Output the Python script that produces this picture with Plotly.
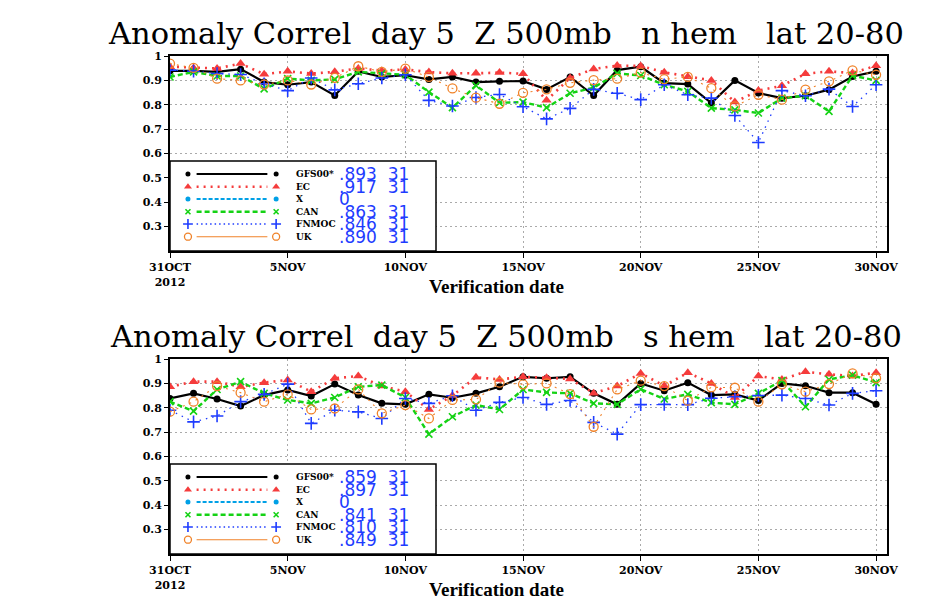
import pandas as pd
import plotly.graph_objects as go

# verification dates, 31 Oct .. 30 Nov 2012
dates = pd.date_range("2012-10-31", periods=31, freq="D")
tick_dates = ["2012-10-31", "2012-11-05", "2012-11-10", "2012-11-15",
              "2012-11-20", "2012-11-25", "2012-11-30"]
tick_text = ["31OCT<br>2012", "5NOV", "10NOV", "15NOV", "20NOV", "25NOV", "30NOV"]
y_ticks = [0.3, 0.4, 0.5, 0.6, 0.7, 0.8, 0.9, 1.0]
y_text = ["0.3", "0.4", "0.5", "0.6", "0.7", "0.8", "0.9", "1"]

models = ["GFS00*", "EC", "X", "CAN", "FNMOC", "UK"]

# northern hemisphere
gfs_n = [0.939, 0.939, 0.935, 0.946, 0.893, 0.882, 0.893, 0.838, 0.937, 0.914, 0.921,
         0.904, 0.914, 0.893, 0.896, 0.897, 0.863, 0.914, 0.838, 0.942, 0.956,
         0.889, 0.885, 0.807, 0.900, 0.848, 0.827, 0.837, 0.862, 0.916, 0.937]
ec_n = [0.956, 0.951, 0.949, 0.969, 0.925, 0.937, 0.928, 0.935, 0.949, 0.940, 0.945,
        0.934, 0.929, 0.929, 0.932, 0.927, 0.818, 0.910, 0.947, 0.961, 0.959,
        0.933, 0.915, 0.900, 0.811, 0.858, 0.878, 0.927, 0.937, 0.930, 0.960]
can_n = [0.914, 0.935, 0.918, 0.918, 0.865, 0.907, 0.900, 0.904, 0.935, 0.928, 0.923,
         0.852, 0.788, 0.879, 0.808, 0.811, 0.788, 0.847, 0.870, 0.929, 0.920,
         0.882, 0.855, 0.786, 0.779, 0.766, 0.827, 0.837, 0.773, 0.919, 0.900]
fnmoc_n = [0.942, 0.938, 0.928, 0.924, 0.886, 0.858, 0.910, 0.861, 0.886, 0.910, 0.923,
           0.818, 0.795, 0.830, 0.842, 0.792, 0.742, 0.785, 0.863, 0.847, 0.821,
           0.882, 0.841, 0.827, 0.756, 0.645, 0.858, 0.837, 0.864, 0.793, 0.882]
uk_n = [0.969, 0.951, 0.907, 0.900, 0.883, 0.900, 0.883, 0.910, 0.958, 0.935, 0.948,
        0.914, 0.867, 0.829, 0.804, 0.849, 0.863, 0.890, 0.901, 0.907, 0.932,
        0.905, 0.914, 0.868, 0.793, 0.841, 0.821, 0.862, 0.896, 0.941, 0.923]
stats_n = [".893  31", ".917  31", "0", ".863  31", ".846  31", ".890  31"]

# southern hemisphere
gfs_s = [0.838, 0.859, 0.836, 0.807, 0.852, 0.873, 0.848, 0.897, 0.852, 0.818, 0.814,
         0.855, 0.841, 0.859, 0.886, 0.927, 0.921, 0.927, 0.859, 0.814, 0.900,
         0.870, 0.903, 0.852, 0.855, 0.830, 0.900, 0.890, 0.862, 0.862, 0.814]
ec_s = [0.886, 0.907, 0.907, 0.886, 0.903, 0.914, 0.866, 0.921, 0.930, 0.889, 0.866,
        0.793, 0.850, 0.925, 0.916, 0.927, 0.923, 0.918, 0.860, 0.889, 0.941,
        0.890, 0.944, 0.900, 0.842, 0.930, 0.916, 0.948, 0.937, 0.930, 0.944]
can_s = [0.825, 0.786, 0.875, 0.907, 0.859, 0.832, 0.818, 0.842, 0.886, 0.893, 0.842,
         0.692, 0.763, 0.811, 0.793, 0.875, 0.863, 0.859, 0.818, 0.814, 0.876,
         0.836, 0.855, 0.821, 0.814, 0.859, 0.911, 0.804, 0.916, 0.934, 0.903]
fnmoc_s = [0.790, 0.742, 0.766, 0.825, 0.855, 0.897, 0.736, 0.790, 0.783, 0.756, 0.838,
           0.818, 0.849, 0.790, 0.822, 0.842, 0.814, 0.830, 0.740, 0.692, 0.813,
           0.814, 0.813, 0.839, 0.845, 0.850, 0.852, 0.838, 0.811, 0.859, 0.870]
uk_s = [0.784, 0.825, 0.889, 0.862, 0.825, 0.855, 0.793, 0.797, 0.875, 0.777, 0.811,
        0.756, 0.832, 0.834, 0.903, 0.896, 0.900, 0.856, 0.722, 0.875, 0.911,
        0.889, 0.829, 0.884, 0.882, 0.825, 0.896, 0.866, 0.897, 0.941, 0.921]
stats_s = [".859  31", ".897  31", "0", ".841  31", ".810  31", ".849  31"]

W, H = 930, 608
OFF = 8  # the page body margin shifts the figure by 8px


def fx(px):
    return (px - OFF) / W


def fy(py):
    return 1 - (py - OFF) / H


RED = "rgb(245,60,60)"
GREEN = "rgb(20,210,20)"
BLUE = "rgb(30,60,255)"
ORANGE = "rgb(240,130,40)"
CYAN = "rgb(0,160,230)"

# line / marker style per model
styles = {
    "GFS00*": dict(line=dict(color="black", width=2.2, dash="solid"),
                   marker=dict(symbol="circle", size=7, color="black")),
    "EC": dict(line=dict(color=RED, width=2.6, dash="2px,5px"),
               marker=dict(symbol="triangle-up", size=9, color=RED)),
    "X": dict(line=dict(color=CYAN, width=2.2, dash="4px,2px"),
              marker=dict(symbol="circle", size=7, color=CYAN)),
    "CAN": dict(line=dict(color=GREEN, width=2.4, dash="5px,3px"),
                marker=dict(symbol="x-thin", size=7, color=GREEN,
                            line=dict(color=GREEN, width=1.6))),
    "FNMOC": dict(line=dict(color=BLUE, width=1.3, dash="1.5px,5px"),
                  marker=dict(symbol="cross-thin", size=9, color=BLUE,
                              line=dict(color=BLUE, width=1.6))),
    "UK": dict(line=dict(color=ORANGE, width=1.1, dash="2px,5px"),
               marker=dict(symbol="circle-open", size=9, color=ORANGE,
                           line=dict(color=ORANGE, width=1.3))),
}

fig = go.Figure()

panels = [
    dict(xa="x", ya="y", series=[gfs_n, ec_n, None, can_n, fnmoc_n, uk_n],
         stats=stats_n, top=56, bottom=251, hem="n hem"),
    dict(xa="x2", ya="y2", series=[gfs_s, ec_s, None, can_s, fnmoc_s, uk_s],
         stats=stats_s, top=359, bottom=554, hem="s hem"),
]

x_left, x_right = 170.0, 886.7
leg_right = 436.0
row_off = [13.0, 25.7, 38.0, 50.7, 63.0, 75.7]
annotations = []
shapes = []

for k, p in enumerate(panels):
    # data lines
    for name, vals in zip(models, p["series"]):
        if vals is None:
            continue
        st = styles[name]
        fig.add_trace(go.Scatter(x=dates, y=vals, mode="lines+markers", name=name,
                                 line=st["line"], marker=st["marker"],
                                 xaxis=p["xa"], yaxis=p["ya"], showlegend=False))

    # hand-drawn legend box like the GrADS original
    lx = "x%d" % (k + 3)
    ly = "y%d" % (k + 3)
    leg_top = p["bottom"] - 90
    for i, name in enumerate(models):
        st = styles[name]
        ry = 1 - row_off[i] / 90.0
        line = dict(st["line"])
        if name == "UK":
            line["dash"] = "solid"
        if name == "FNMOC":
            line["dash"] = "1.5px,3px"
        mk = dict(st["marker"])
        mk["size"] = mk["size"] - 2
        fig.add_trace(go.Scatter(x=[0.10, 0.366], y=[ry, ry], mode="lines", line=line,
                                 xaxis=lx, yaxis=ly, showlegend=False, hoverinfo="skip"))
        fig.add_trace(go.Scatter(x=[0.0675, 0.399], y=[ry, ry], mode="markers",
                                 marker=mk, xaxis=lx, yaxis=ly,
                                 showlegend=False, hoverinfo="skip"))
        annotations.append(dict(x=0.466, y=ry, xref=lx, yref=ly, text=name,
                                showarrow=False, xanchor="left", yanchor="middle",
                                font=dict(family="DejaVu Serif", size=9, color="black",
                                          weight="bold")))
        annotations.append(dict(x=0.628, y=ry, xref=lx, yref=ly,
                                text=p["stats"][i].replace(" ", "\u00a0"),
                                showarrow=False, xanchor="left", yanchor="middle",
                                font=dict(family="DejaVu Sans", size=17, color=BLUE)))
    shapes.append(dict(type="rect", xref="paper", yref="paper",
                       x0=fx(x_left), x1=fx(leg_right),
                       y0=fy(p["bottom"]), y1=fy(leg_top),
                       line=dict(color="black", width=1.5), layer="above"))

    title = "Anomaly Correl  day 5  Z 500mb   %s   lat 20-80" % p["hem"]
    annotations.append(dict(x=fx(506), y=fy(p["top"] - 23), xref="paper",
                            yref="paper", text=title.replace(" ", "\u00a0"),
                            showarrow=False, xanchor="center", yanchor="middle",
                            font=dict(family="DejaVu Serif", size=30.5, color="black")))
    annotations.append(dict(x=fx(497), y=fy(p["bottom"] + 35), xref="paper",
                            yref="paper", text="Verification date",
                            showarrow=False, xanchor="center", yanchor="middle",
                            font=dict(family="Liberation Serif", size=19, color="black",
                                      weight="bold")))

x_dom = [fx(x_left), fx(x_right)]
x_range = ["2012-10-31", "2012-11-30 10:50"]
tick_font = dict(family="DejaVu Serif", size=11, color="black", weight="bold")
grid_col = "rgb(170,170,170)"

xaxis_common = dict(type="date", range=x_range, domain=x_dom, tickmode="array",
                    tickvals=tick_dates, ticktext=tick_text, ticks="outside",
                    ticklen=5, tickcolor="black", tickfont=tick_font,
                    showgrid=True, gridcolor=grid_col, griddash="2px,3px",
                    gridwidth=1, showline=True, linecolor="black", linewidth=2,
                    mirror=True, zeroline=False, fixedrange=True, automargin=False)
yaxis_common = dict(range=[0.2, 1.0], tickmode="array", tickvals=y_ticks,
                    ticktext=y_text, ticks="outside", ticklen=4, tickcolor="black",
                    tickfont=tick_font, showgrid=True, gridcolor=grid_col,
                    griddash="2px,3px", gridwidth=1, showline=True, linecolor="black",
                    linewidth=2, mirror=True, zeroline=False, fixedrange=True,
                    automargin=False)

layout = dict(
    width=W, height=H, margin=dict(l=0, r=0, t=0, b=0, autoexpand=False),
    paper_bgcolor="white", plot_bgcolor="white", showlegend=False,
    xaxis=dict(xaxis_common, anchor="y"),
    yaxis=dict(yaxis_common, anchor="x",
               domain=[fy(panels[0]["bottom"]), fy(panels[0]["top"])]),
    xaxis2=dict(xaxis_common, anchor="y2"),
    yaxis2=dict(yaxis_common, anchor="x2",
                domain=[fy(panels[1]["bottom"]), fy(panels[1]["top"])]),
    annotations=annotations, shapes=shapes,
)
for k, p in enumerate(panels):
    leg_top = p["bottom"] - 90
    layout["xaxis%d" % (k + 3)] = dict(domain=[fx(x_left), fx(leg_right)], range=[0, 1],
                                       visible=False, anchor="y%d" % (k + 3),
                                       fixedrange=True)
    layout["yaxis%d" % (k + 3)] = dict(domain=[fy(p["bottom"]), fy(leg_top)],
                                       range=[0, 1], visible=False,
                                       anchor="x%d" % (k + 3), fixedrange=True)

fig.update_layout(**layout)
fig.write_html("out.html")
